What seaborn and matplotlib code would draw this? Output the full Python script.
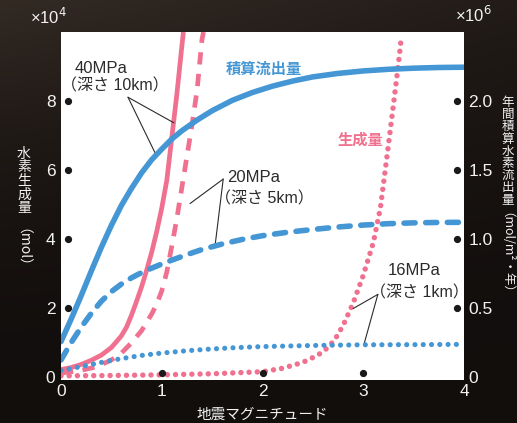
import numpy as np
import pandas as pd
import matplotlib
matplotlib.use('Agg')
import matplotlib.pyplot as plt
import matplotlib.transforms as mtransforms
import seaborn as sns

# magnitude (x) and hydrogen generation (x10^4 mol, left axis)
x_p40 = [0, 0.1, 0.2, 0.3, 0.4, 0.5, 0.6, 0.65, 0.7, 0.75, 0.8, 0.85, 0.9, 0.95, 1.0,
         1.05, 1.1, 1.15, 1.2, 1.215]
y_p40 = [0.22, 0.28, 0.37, 0.49, 0.64, 0.86, 1.2, 1.45, 1.8, 2.2, 2.62, 3.1, 3.62, 4.22, 4.9,
         5.7, 6.95, 8.2, 9.6, 10.0]

x_p20 = [0, 0.2, 0.35, 0.5, 0.6, 0.7, 0.8, 0.9, 0.95, 1.0, 1.05, 1.1, 1.15, 1.2, 1.25, 1.3,
         1.35, 1.4, 1.415]
y_p20 = [0.12, 0.2, 0.3, 0.5, 0.7, 1.0, 1.35, 1.83, 2.12, 2.5, 3.05, 3.8, 4.6, 5.5, 6.4, 7.3,
         8.3, 9.8, 10.0]

x_p16 = [0, 0.5, 1.0, 1.5, 2.0, 2.2, 2.4, 2.55, 2.65, 2.72, 2.8, 2.9, 3.0, 3.1, 3.17, 3.24,
         3.3, 3.35, 3.38]
y_p16 = [0.04, 0.05, 0.07, 0.1, 0.16, 0.26, 0.43, 0.64, 0.86, 1.1, 1.5, 2.15, 2.95, 3.9, 4.9,
         6.5, 7.9, 9.1, 9.9]

# annual cumulative outflow (x10^6 mol/m2/yr, right axis)
x_b40 = [0, 0.1, 0.2, 0.3, 0.4, 0.5, 0.6, 0.7, 0.8, 0.9, 1.0, 1.1, 1.2, 1.35, 1.5, 1.7,
         1.9, 2.1, 2.3, 2.5, 2.75, 3.0, 3.25, 3.5, 3.75, 4.0]
y_b40 = [0.258, 0.42, 0.59, 0.768, 0.94, 1.1, 1.245, 1.368, 1.48, 1.575, 1.652, 1.725, 1.785,
         1.862, 1.93, 2.005, 2.062, 2.108, 2.145, 2.175, 2.2, 2.218, 2.23, 2.238, 2.243, 2.245]

x_b20 = [0, 0.1, 0.2, 0.3, 0.4, 0.5, 0.6, 0.7, 0.8, 0.9, 1.0, 1.1, 1.25, 1.4, 1.6, 1.8, 2.0,
         2.25, 2.5, 2.75, 3.0, 3.25, 3.5, 3.75, 4.0]
y_b20 = [0.125, 0.25, 0.362, 0.462, 0.55, 0.62, 0.675, 0.72, 0.758, 0.79, 0.82, 0.848, 0.888,
         0.925, 0.965, 0.998, 1.025, 1.05, 1.07, 1.088, 1.102, 1.112, 1.118, 1.121, 1.122]

x_b16 = [0, 0.15, 0.3, 0.45, 0.6, 0.8, 1.0, 1.25, 1.5, 1.75, 2.0, 2.5, 3.0, 3.5, 4.0]
y_b16 = [0.048, 0.07, 0.092, 0.115, 0.135, 0.158, 0.175, 0.192, 0.205, 0.215, 0.222, 0.23,
         0.235, 0.236, 0.238]

x_ticks = [0, 1, 2, 3, 4]
left_ticks = [0, 2, 4, 6, 8]
right_ticks = [0, 0.5, 1.0, 1.5, 2.0]
right_labels = ['0', '0.5', '1.0', '1.5', '2.0']

BLUE = '#4497d4'
PINK = '#f0718f'
TXT = '#2b2b2b'
WHITE = '#f2f2f2'

sns.set_theme(style='white')
plt.rcParams['font.family'] = ['Liberation Sans', 'Noto Sans CJK JP', 'DejaVu Sans']
CJK = ['Noto Sans CJK JP', 'DejaVu Sans']

W, H = 517, 423
fig = plt.figure(figsize=(W / 100, H / 100), dpi=100)

# dark photo-like background
bg = fig.add_axes([0, 0, 1, 1], zorder=-10)
gy = np.linspace(0, 1, 200)[:, None]
gx = np.linspace(0, 1, 200)[None, :]
top = np.array([0.07, 0.055, 0.05])
bot = np.array([0.2, 0.165, 0.14])
t = (gy ** 2.2) * (1 - 0.5 * gx)
img = top[None, None, :] * (1 - t[..., None]) + bot[None, None, :] * t[..., None]
bg.imshow(img, aspect='auto', extent=[0, 1, 0, 1], origin='lower')
bg.axis('off')

L, R = 61 / W, 464 / W
B, T = 1 - 380 / H, 1 - 32 / H
ax = fig.add_axes([L, B, R - L, T - B])
ax.set_facecolor('white')
ax2 = ax.twinx()

lw_p, lw_b = 3.4, 4.0
df = pd.DataFrame
sns.lineplot(data=df({'x': x_p40, 'y': y_p40}), x='x', y='y', ax=ax, color=PINK,
             lw=lw_p, estimator=None, solid_capstyle='butt')
sns.lineplot(data=df({'x': x_p20, 'y': y_p20}), x='x', y='y', ax=ax, color=PINK,
             lw=lw_p, estimator=None, linestyle=(0, (2.6, 2.0)), dash_capstyle='butt')
sns.lineplot(data=df({'x': x_p16, 'y': y_p16}), x='x', y='y', ax=ax, color=PINK,
             lw=3.9, estimator=None, linestyle=(0, (0.01, 1.5)), dash_capstyle='round')

sns.lineplot(data=df({'x': x_b40, 'y': y_b40}), x='x', y='y', ax=ax2, color=BLUE,
             lw=lw_b, estimator=None, solid_capstyle='round')
sns.lineplot(data=df({'x': x_b20, 'y': y_b20}), x='x', y='y', ax=ax2, color=BLUE,
             lw=lw_b, estimator=None, linestyle=(0, (2.0, 1.9)), dash_capstyle='round')
sns.lineplot(data=df({'x': x_b16, 'y': y_b16}), x='x', y='y', ax=ax2, color=BLUE,
             lw=3.7, estimator=None, linestyle=(0, (0.01, 1.6)), dash_capstyle='round')

ax.set_xlim(0, 4)
ax.set_ylim(-0.08, 10)
ax2.set_ylim(-0.02, 2.5)

for a in (ax, ax2):
    for s in a.spines.values():
        s.set_visible(False)
    a.set_xlabel('')
    a.set_ylabel('')

ax.set_xticks(x_ticks)
ax.set_yticks(left_ticks)
ax2.set_yticks(right_ticks)
ax2.set_yticklabels(right_labels)
ax.tick_params(axis='both', length=0, labelsize=12.5, labelcolor=WHITE)
ax.tick_params(axis='y', pad=4)
ax.tick_params(axis='x', pad=3)
ax2.tick_params(axis='y', length=0, labelsize=12.5, labelcolor=WHITE, pad=3)

# tick dots drawn inside the frame
dpi_t = fig.dpi_scale_trans
off_l = ax.get_yaxis_transform() + mtransforms.ScaledTranslation(7 / 100, 0, dpi_t)
ax.plot([0] * 4, left_ticks[1:], 'o', color='#1a1a1a', ms=4.2, transform=off_l, clip_on=False)
off_b = ax.get_xaxis_transform() + mtransforms.ScaledTranslation(0, 7 / 100, dpi_t)
ax.plot(x_ticks[1:4], [0] * 3, 'o', color='#1a1a1a', ms=4.2, transform=off_b, clip_on=False)
off_r = ax2.get_yaxis_transform() + mtransforms.ScaledTranslation(-7 / 100, 0, dpi_t)
ax2.plot([1] * 4, right_ticks[1:], 'o', color='#1a1a1a', ms=4.2, transform=off_r, clip_on=False)

# exponents
fig.text(30 / W, 1 - 17 / H, '×10$^{4}$', color=WHITE, fontsize=12, va='center')
fig.text(455 / W, 1 - 15 / H, '×10$^{6}$', color=WHITE, fontsize=12, va='center')

# axis titles
fig.text(262 / W, 1 - 415 / H, '地震マグニチュード', color=WHITE, fontsize=10.5,
         ha='center', va='center', family=CJK)
fig.text(24 / W, 1 - 147 / H, '\n'.join('水素生成量'), color=WHITE, fontsize=10,
         ha='center', va='top', linespacing=0.95, family=CJK)
fig.text(15 / W, 1 - 228 / H, '（mol）', color=WHITE, fontsize=10,
         ha='center', va='top', rotation=270, family=CJK)
fig.text(508 / W, 1 - 96 / H, '\n'.join('年間積算水素流出量'), color=WHITE, fontsize=9,
         ha='center', va='top', linespacing=0.92, family=CJK)
fig.text(500 / W, 1 - 212 / H, '（mol/m²・年）', color=WHITE, fontsize=9,
         ha='center', va='top', rotation=270, family=CJK)

# in-plot labels, one line at a time
notes = [
    (0.139, 8.94, '40MPa', 12),
    (0.0, 8.43, '（深さ 10km）', 11.5),
    (1.647, 5.80, '20MPa', 12),
    (1.53, 5.17, '（深さ 5km）', 11.5),
    (3.244, 3.09, '16MPa', 12),
    (3.07, 2.43, '（深さ 1km）', 11.5),
]
for nx, ny, s, fs in notes:
    ax.text(nx, ny, s, color=TXT, fontsize=fs, va='center')
ax.text(2.01, 8.93, '積算流出量', color=BLUE, fontsize=11, fontweight='bold',
        va='center', ha='center', family=CJK)
ax.text(2.97, 6.89, '生成量', color=PINK, fontsize=11, fontweight='bold',
        va='center', ha='center', family=CJK)

leaders = [
    ((0.665, 8.11), (1.12, 7.37)),
    ((0.665, 8.11), (0.95, 6.40)),
    ((1.61, 5.74), (1.28, 5.03)),
    ((1.61, 5.74), (1.53, 3.83)),
    ((3.145, 2.40), (2.90, 1.99)),
    ((3.145, 2.40), (3.006, 0.94)),
]
for start, end in leaders:
    ax.annotate('', xy=end, xytext=start,
                arrowprops=dict(arrowstyle='-', lw=0.8, color=TXT, shrinkA=0, shrinkB=0))

fig.savefig('out.png', dpi=100)
